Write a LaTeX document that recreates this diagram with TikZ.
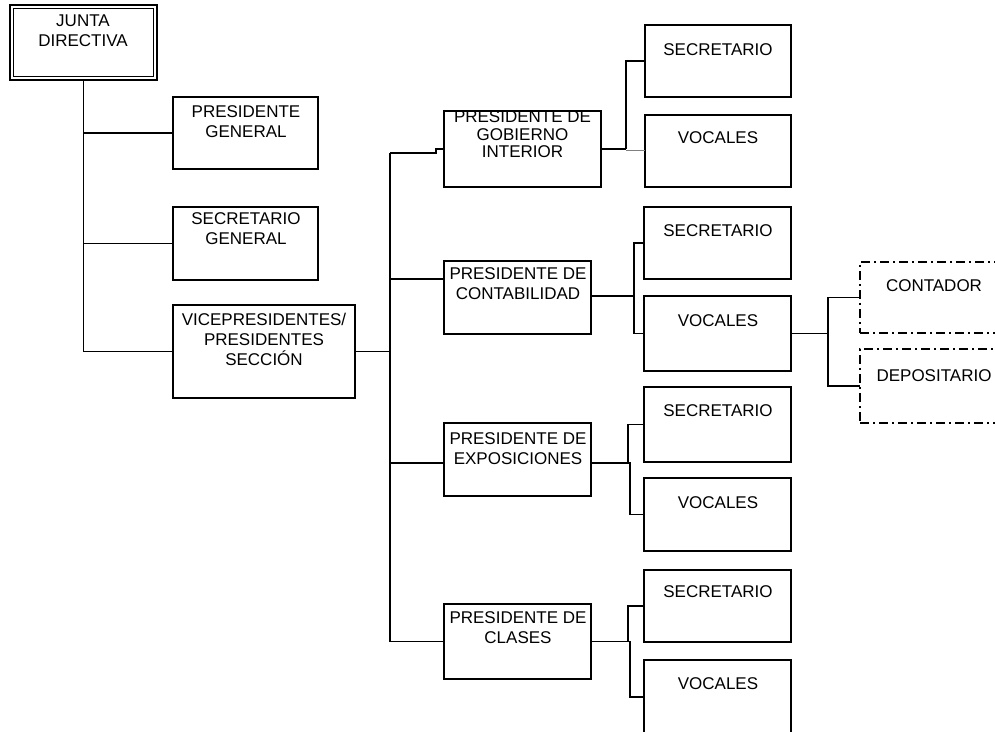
\documentclass[tikz,border=0pt]{standalone}
\usepackage{fontspec}
\setmainfont{Liberation Sans}
\newcommand\orgbox[6][box]{%
  \pgfmathsetmacro\obw{#5-#3}%
  \pgfmathsetmacro\obh{#6-#4}%
  \pgfmathsetmacro\obx{(#3+#5)/2}%
  \pgfmathsetmacro\oby{(#4+#6)/2}%
  \node[#1,minimum width=\obw pt,minimum height=\obh pt] (#2) at (\obx,\oby) {};}
\begin{document}
\begin{tikzpicture}[x=1pt,y=-1pt,line width=1.7pt,
  box/.style={draw,rectangle,inner sep=0pt,outer sep=0pt},
  dbox/.style={draw,rectangle,inner sep=0pt,outer sep=0pt,line width=1.5pt,dash pattern=on 9pt off 4pt on 2pt off 4pt},
  txt/.style={anchor=north,inner sep=0pt,outer sep=0pt,align=center,font=\fontsize{17}{20}\selectfont},
  faint/.style={draw=gray,line width=0.8pt}]
\useasboundingbox (0,0) rectangle (995,731);
\clip (0,0) rectangle (995,731);
% boxes
\orgbox{junta}{10}{5}{157}{80}
\draw ([shift={(3.4,3.4)}]junta.north west) rectangle ([shift={(-3.4,-3.4)}]junta.south east);
\orgbox{pg}{173}{97}{318}{169}
\orgbox{sg}{173}{207}{318}{280}
\orgbox{vp}{173}{305}{355}{398}
\orgbox{gi}{444}{111}{601}{187}
\orgbox{s1}{645}{25}{791}{97}
\orgbox{v1}{645}{115}{791}{187}
\orgbox{ct}{444}{261}{591}{334}
\orgbox{s2}{644}{207}{791}{279}
\orgbox{v2}{644}{296}{791}{371}
\orgbox{ex}{444}{423}{591}{496}
\orgbox{s3}{644}{387}{791}{462}
\orgbox{v3}{644}{478}{791}{551}
\orgbox{cl}{444}{604}{591}{679}
\orgbox{s4}{644}{570}{791}{642}
\orgbox{v4}{644}{660}{791}{734}
\orgbox[dbox]{cnt}{860}{262}{1010}{333}
\orgbox[dbox]{dep}{860}{349}{1010}{423}
% texts
\node[txt] (junta-t) at (83,15) {JUNTA\\DIRECTIVA};
\node[txt] (pg-t) at (246,106) {PRESIDENTE\\GENERAL};
\node[txt] (sg-t) at (246,213) {SECRETARIO\\GENERAL};
\node[txt] (vp-t) at (264,313) {VICEPRESIDENTES/\\PRESIDENTES\\SECCIÓN};
\node[txt,font=\fontsize{17}{17.5}\selectfont] (gi-t) at (522.5,111) {PRESIDENTE DE\\GOBIERNO\\INTERIOR};
\node[txt] (s1-t) at (718,44) {SECRETARIO};
\node[txt] (v1-t) at (718,132) {VOCALES};
\node[txt] (ct-t) at (518,268) {PRESIDENTE DE\\CONTABILIDAD};
\node[txt] (s2-t) at (718,225) {SECRETARIO};
\node[txt] (v2-t) at (718,315) {VOCALES};
\node[txt] (ex-t) at (518,433) {PRESIDENTE DE\\EXPOSICIONES};
\node[txt] (s3-t) at (718,405) {SECRETARIO};
\node[txt] (v3-t) at (718,497) {VOCALES};
\node[txt] (cl-t) at (518,612) {PRESIDENTE DE\\CLASES};
\node[txt] (s4-t) at (718,586) {SECRETARIO};
\node[txt] (v4-t) at (718,678) {VOCALES};
\node[txt] (cnt-t) at (934,280) {CONTADOR};
\node[txt] (dep-t) at (934,370) {DEPOSITARIO};
% connectors: junta
\draw (junta.south) |- (pg.west);
\draw (junta.south) |- (sg.west);
\draw (junta.south) |- (vp.west);
% trunk
\coordinate (trunkTop) at (390,153);
\coordinate (trunkBot) at (trunkTop |- cl.west);
\draw (vp.east) -- (vp.east -| trunkTop);
\draw (trunkTop) -- (trunkBot);
\draw (trunkTop) -- ++(46,0) |- (gi.west);
\draw ([yshift=18.5pt]ct.west -| trunkTop) -- ([yshift=18.5pt]ct.west);
\draw ([yshift=-3.5pt]ex.west -| trunkTop) -- ([yshift=-3.5pt]ex.west);
\draw (trunkBot) -- (cl.west);
% gobierno interior
\draw (gi.east) -- ++(25,0) coordinate (gij);
\draw (gij) |- (s1.west);
\draw[faint] ([yshift=-1.5pt]gij) -- ([yshift=-1.5pt]gij -| v1.west);
% contabilidad
\draw ([yshift=1.5pt]ct.east) -- ++(43,0) coordinate (ctj);
\draw (s2.west) -| (ctj) |- (v2.west);
% exposiciones
\draw ([yshift=-3.5pt]ex.east) -- ++(37,0) coordinate (exj);
\draw (s3.west) -| (exj);
\draw (exj) -- ++(2,0) |- (v3.west);
% clases
\draw (cl.east) -- ++(37,0) coordinate (clj);
\draw (s4.west) -| (clj);
\draw (clj) -- ++(2,0) |- (v4.west);
% vocales contabilidad
\draw (v2.east) -- ++(37,0) coordinate (vj);
\draw (cnt.west) -| (vj) |- (dep.west);
\end{tikzpicture}
\end{document}
